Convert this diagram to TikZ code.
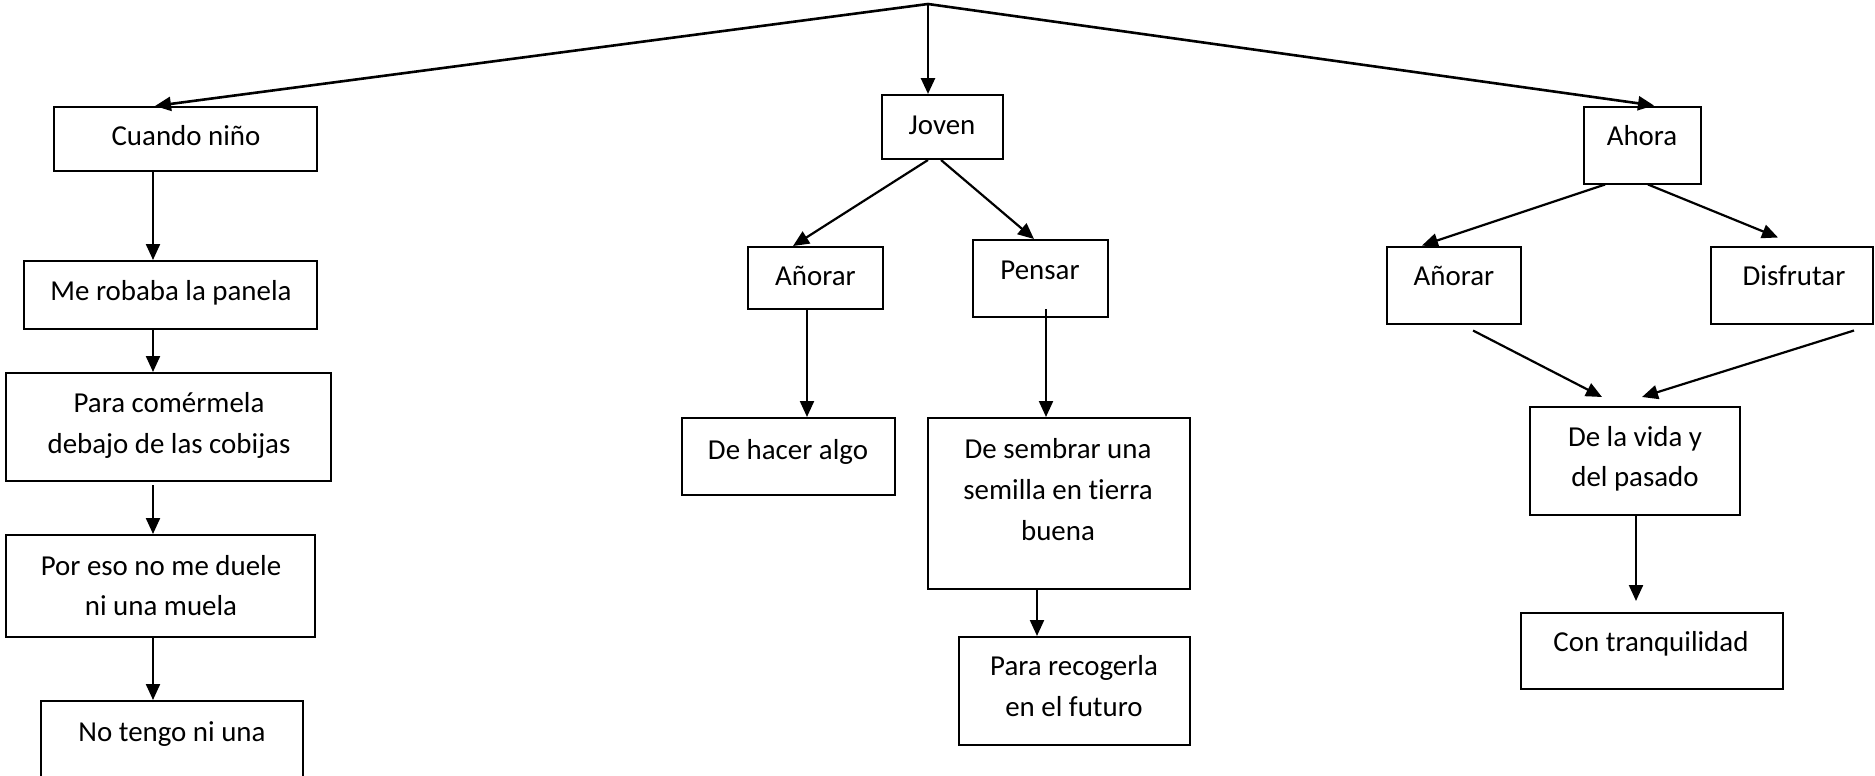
\documentclass[tikz,border=0pt]{standalone}
\usepackage{fontspec}
\setmainfont{Carlito}[Ligatures=NoCommon]
\usetikzlibrary{arrows.meta,calc}
\begin{document}
\begin{tikzpicture}[x=0.5pt,y=-0.5pt,
  box/.style={draw, line width=1pt, inner sep=0pt},
  txt/.style={inner sep=0pt, align=center, font=\fontsize{14.45}{20.3}\selectfont},
  arr/.style={-{Triangle[length=8pt,width=7pt]}, line width=1.1pt},
  toparr/.style={arr, line width=1.3pt}]
\useasboundingbox (0,0) rectangle (1875,776);
\clip (0,0) rectangle (1875,776);
% boxes
\node[box, minimum width=131.5pt, minimum height=32pt] (cuando) at (185.5,139) {};
\node[box, minimum width=146.5pt, minimum height=34pt] (robaba) at (170.5,295) {};
\node[box, minimum width=162.5pt, minimum height=54pt] (para) at (168.5,427) {};
\node[box, minimum width=154.5pt, minimum height=51pt] (poreso) at (160.5,586) {};
\node[box, minimum width=131pt, minimum height=64.5pt] (notengo) at (172,765.5) {};
\node[box, minimum width=60.5pt, minimum height=32pt] (joven) at (942,127) {};
\node[box, minimum width=67.5pt, minimum height=31pt] (anor1) at (815.5,278) {};
\node[box, minimum width=67.5pt, minimum height=38.5pt] (pensar) at (1040,278.5) {};
\node[box, minimum width=106.5pt, minimum height=38.5pt] (hacer) at (788.5,456.5) {};
\node[box, minimum width=131pt, minimum height=85.5pt] (sembrar) at (1059,503.5) {};
\node[box, minimum width=115.5pt, minimum height=54pt] (recoger) at (1074.5,691) {};
\node[box, minimum width=58.5pt, minimum height=38.5pt] (ahora) at (1642,145) {};
\node[box, minimum width=67pt, minimum height=38.5pt] (anor2) at (1454,285) {};
\node[box, minimum width=81pt, minimum height=38.5pt] (disf) at (1792,285) {};
\node[box, minimum width=105pt, minimum height=54pt] (vida) at (1635,461) {};
\node[box, minimum width=131pt, minimum height=38pt] (tranq) at (1652,651) {};
% texts
\node[txt] (tcuando) at (186,137.5) {\strut Cuando niño};
\node[txt] (trobaba) at (171,292) {\strut Me robaba la panela};
\node[txt] (tpara) at (169,424.7) {\strut Para comérmela\\\strut debajo de las cobijas};
\node[txt] (tporeso) at (161,587.4) {\strut Por eso no me duele\\\strut ni una muela};
\node[txt] (tnotengo) at (172,733) {\strut No tengo ni una};
\node[txt] (tjoven) at (942,126) {\strut Joven};
\node[txt] (tanor1) at (815.5,277.5) {\strut Añorar};
\node[txt] (tpensar) at (1040,271.5) {\strut Pensar};
\node[txt] (thacer) at (788,451) {\strut De hacer algo};
\node[txt] (tsembrar) at (1058,491.3) {\strut De sembrar una\\\strut semilla en tierra\\\strut buena};
\node[txt] (trecoger) at (1074,687.8) {\strut Para recogerla\\\strut en el futuro};
\node[txt] (tahora) at (1642,137.7) {\strut Ahora};
\node[txt] (tanor2) at (1454,277.5) {\strut Añorar};
\node[txt] (tdisf) at (1794,277.5) {\strut Disfrutar};
\node[txt] (tvida) at (1635,458.2) {\strut De la vida y\\\strut del pasado};
\node[txt] (ttranq) at (1651,643.4) {\strut Con tranquilidad};
% connectors
\coordinate (apex) at (928,4);
\draw[toparr] (apex) -- ($(cuando.north)+(-30.5,0)$);
\draw[toparr] (apex) -- ($(joven.north)+(-14,0)$);
\draw[toparr] (apex) -- ($(ahora.north)+(12,0)$);
\draw[arr] ($(cuando.south)+(-32.5,0)$) -- ($(robaba.north)+(-17.5,0)$);
\draw[arr] ($(robaba.south)+(-17.5,0)$) -- ($(para.north)+(-15.5,0)$);
\draw[arr] ($(para.south)+(-15.5,3)$) -- ($(poreso.north)+(-7.5,0)$);
\draw[arr] ($(poreso.south)+(-7.5,0)$) -- ($(notengo.north)+(-19,0)$);
\draw[arr] ($(joven.south)+(-14,0)$) -- ($(anor1.north)+(-22.5,0)$);
\draw[arr] ($(joven.south)+(-1,0)$) -- ($(pensar.north)+(-6,0)$);
\draw[arr] ($(anor1.south)+(-8.5,-2)$) -- ($(hacer.north)+(18.5,0)$);
\draw[arr] ($(pensar.south)+(6,-9)$) -- ($(sembrar.north)+(-13,0)$);
\draw[arr] ($(sembrar.south)+(-22,0)$) -- ($(recoger.north)+(-37.5,0)$);
\draw[arr] ($(ahora.south)+(-37,0)$) -- ($(anor2.north)+(-32,0)$);
\draw[arr] ($(ahora.south)+(6,0)$) -- ($(disf.north)+(-14,-8)$);
\draw[arr] ($(anor2.south)+(19,6)$) -- ($(vida.north)+(-33,-9)$);
\draw[arr] ($(disf.south)+(62,6)$) -- ($(vida.north)+(7,-9)$);
\draw[arr] ($(vida.south)+(1,0)$) -- ($(tranq.north)+(-16,-11)$);
\end{tikzpicture}
\end{document}
